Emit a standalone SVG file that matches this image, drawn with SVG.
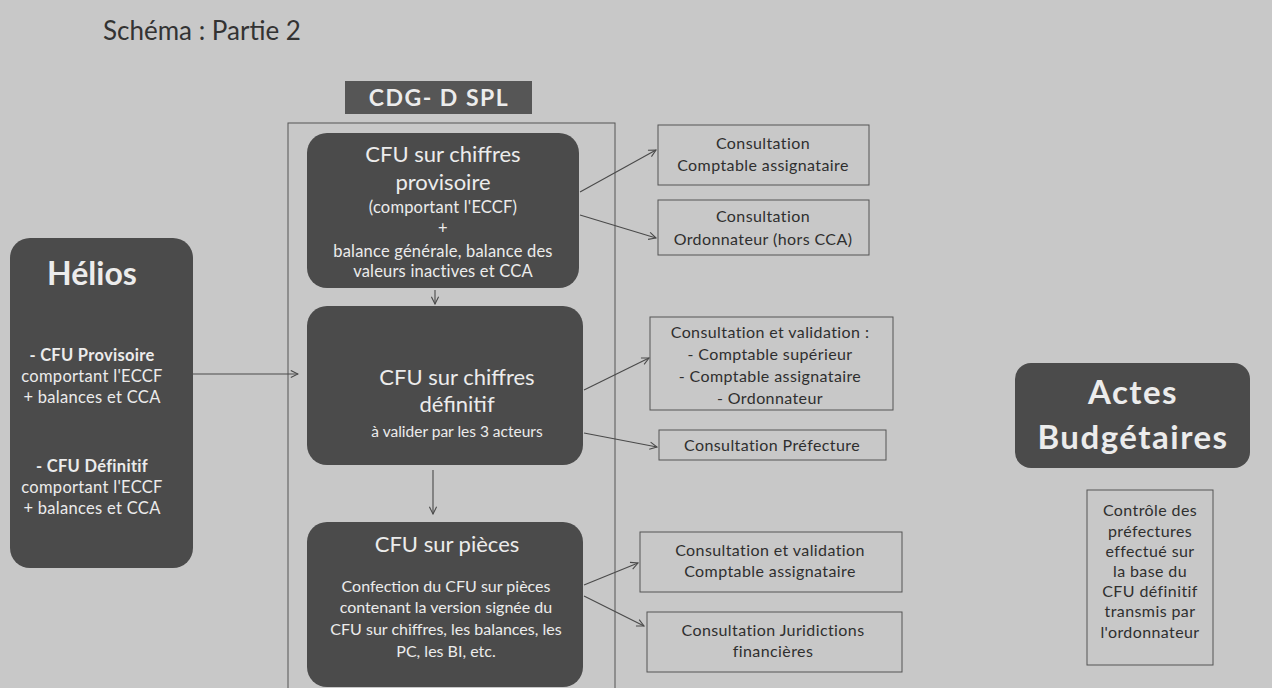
<svg xmlns="http://www.w3.org/2000/svg" width="1272" height="688" viewBox="0 0 1272 688">
<style>
  .bg { fill: #c8c8c8; }
  .dark { fill: #4b4b4b; }
  .wt { fill: #ececec; font-family: Lato, "Liberation Sans", sans-serif; text-anchor: middle; }
  .bk { fill: #2f2f2f; font-family: Lato, "Liberation Sans", sans-serif; text-anchor: middle; font-size: 16px; letter-spacing: 0.4px; }
  .h1 { font-size: 22px; }
  .sm { font-size: 16.5px; letter-spacing: 0.2px; }
  .hl { font-size: 16.5px; letter-spacing: 0.3px; }
  .obox { fill: none; stroke: #555; stroke-width: 1; }
  .conn { fill: none; stroke: #4a4a4a; stroke-width: 1.1; marker-end: url(#arr); }
</style>
<defs>
  <marker id="arr" viewBox="0 0 10 10" refX="9" refY="5" markerWidth="9" markerHeight="9" markerUnits="userSpaceOnUse" orient="auto">
    <path d="M1,1 L9,5 L1,9" fill="none" stroke="#4a4a4a" stroke-width="1.2"/>
  </marker>
</defs>
<rect class="bg" x="0" y="0" width="1272" height="688"/>

<g id="title">
  <text x="103" y="40" font-family="Lato, 'Liberation Sans', sans-serif" font-size="26" fill="#333">Schéma : Partie 2</text>
</g>

<g id="cdg">
  <rect x="345" y="81" width="187" height="33" fill="#565656"/>
  <text class="wt" x="439" y="106" font-family="'Liberation Sans', sans-serif" font-size="23" font-weight="bold" letter-spacing="1.5">CDG- D SPL</text>
</g>

<g id="container">
  <rect class="obox" x="288" y="123" width="327" height="580"/>
</g>

<g id="helios">
  <rect class="dark" x="10" y="238" width="183" height="330" rx="20"/>
  <text class="wt" x="92" y="285" font-size="32" font-weight="bold">Hélios</text>
  <text class="wt hl" x="92" y="361" font-weight="bold">- CFU Provisoire</text>
  <text class="wt hl" x="92" y="382">comportant l'ECCF</text>
  <text class="wt hl" x="92" y="403">+ balances et CCA</text>
  <text class="wt hl" x="92" y="472" font-weight="bold">- CFU Définitif</text>
  <text class="wt hl" x="92" y="493">comportant l'ECCF</text>
  <text class="wt hl" x="92" y="514">+ balances et CCA</text>
</g>

<g id="cfu-provisoire">
  <rect class="dark" x="307" y="133" width="272" height="155" rx="20"/>
  <text class="wt h1" x="443" y="162">CFU sur chiffres</text>
  <text class="wt h1" x="443" y="190">provisoire</text>
  <text class="wt sm" x="443" y="213">(comportant l'ECCF)</text>
  <text class="wt sm" x="443" y="234">+</text>
  <text class="wt sm" x="443" y="257">balance générale, balance des</text>
  <text class="wt sm" x="443" y="277">valeurs inactives et CCA</text>
</g>

<g id="cfu-definitif">
  <rect class="dark" x="307" y="306" width="276" height="159" rx="20"/>
  <text class="wt h1" x="457" y="385">CFU sur chiffres</text>
  <text class="wt h1" x="457" y="412">définitif</text>
  <text class="wt" x="457" y="437" font-size="15.5">à valider par les 3 acteurs</text>
</g>

<g id="cfu-pieces">
  <rect class="dark" x="307" y="522" width="276" height="165" rx="20"/>
  <text class="wt h1" x="447" y="552">CFU sur pièces</text>
  <text class="wt" x="446" y="592" font-size="16">Confection du CFU sur pièces</text>
  <text class="wt" x="446" y="613" font-size="16">contenant la version signée du</text>
  <text class="wt" x="446" y="635" font-size="16">CFU sur chiffres, les balances, les</text>
  <text class="wt" x="446" y="657" font-size="16">PC, les BI, etc.</text>
</g>

<g id="consult-comptable">
  <rect class="obox" x="658" y="125" width="211" height="60"/>
  <text class="bk" x="763" y="149">Consultation</text>
  <text class="bk" x="763" y="171">Comptable assignataire</text>
</g>

<g id="consult-ordonnateur">
  <rect class="obox" x="658" y="200" width="211" height="55"/>
  <text class="bk" x="763" y="222">Consultation</text>
  <text class="bk" x="763" y="245">Ordonnateur (hors CCA)</text>
</g>

<g id="consult-validation">
  <rect class="obox" x="650" y="317" width="243" height="93"/>
  <text class="bk" x="770" y="338">Consultation et validation :</text>
  <text class="bk" x="770" y="360">- Comptable supérieur</text>
  <text class="bk" x="770" y="382">- Comptable assignataire</text>
  <text class="bk" x="770" y="404">- Ordonnateur</text>
</g>

<g id="consult-prefecture">
  <rect class="obox" x="659" y="430" width="227" height="30"/>
  <text class="bk" x="772" y="451">Consultation Préfecture</text>
</g>

<g id="consult-validation-comptable">
  <rect class="obox" x="640" y="532" width="262" height="60"/>
  <text class="bk" x="770" y="556">Consultation et validation</text>
  <text class="bk" x="770" y="577">Comptable assignataire</text>
</g>

<g id="consult-juridictions">
  <rect class="obox" x="647" y="612" width="255" height="60"/>
  <text class="bk" x="773" y="636">Consultation Juridictions</text>
  <text class="bk" x="773" y="657">financières</text>
</g>

<g id="actes">
  <rect class="dark" x="1015" y="363" width="235" height="105" rx="16"/>
  <text class="wt" x="1133" y="404" font-size="33" font-weight="bold" letter-spacing="1.5">Actes</text>
  <text class="wt" x="1133" y="449" font-size="33" font-weight="bold" letter-spacing="1.5">Budgétaires</text>
</g>

<g id="controle">
  <rect class="obox" x="1087" y="490" width="126" height="175"/>
  <text class="bk" x="1150" y="516">Contrôle des</text>
  <text class="bk" x="1150" y="537">préfectures</text>
  <text class="bk" x="1150" y="557">effectué sur</text>
  <text class="bk" x="1150" y="577">la base du</text>
  <text class="bk" x="1150" y="597">CFU définitif</text>
  <text class="bk" x="1150" y="617">transmis par</text>
  <text class="bk" x="1150" y="638">l'ordonnateur</text>
</g>

<g id="connectors">
  <path class="conn" d="M193,374 L298,374"/>
  <path class="conn" d="M580,192 L656,150"/>
  <path class="conn" d="M580,215 L656,238"/>
  <path class="conn" d="M435,290 L435,304"/>
  <path class="conn" d="M584,390 L649,358"/>
  <path class="conn" d="M584,433 L657,447"/>
  <path class="conn" d="M433,470 L433,514"/>
  <path class="conn" d="M584,585 L638,563"/>
  <path class="conn" d="M584,596 L644,626"/>
</g>
</svg>
